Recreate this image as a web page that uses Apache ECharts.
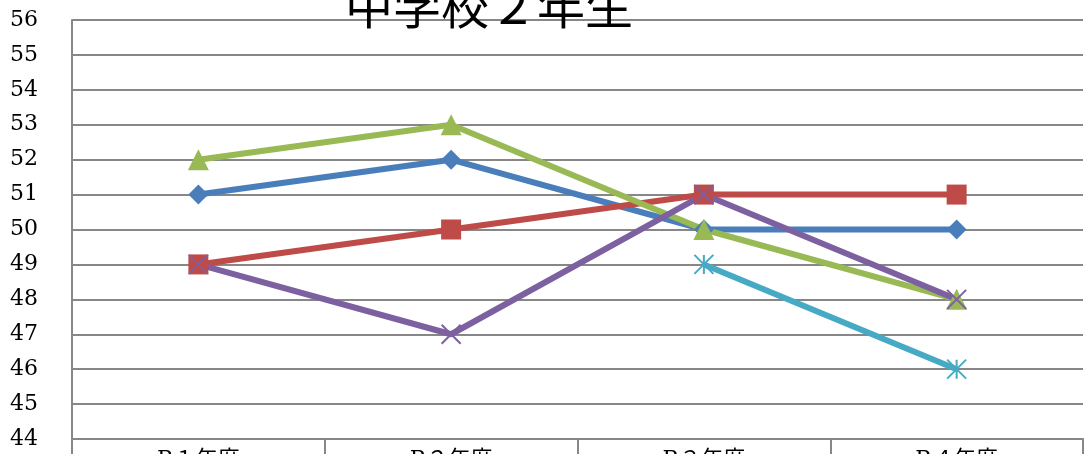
<!DOCTYPE html>
<html>
<head>
<meta charset="utf-8">
<script src="https://cdn.jsdelivr.net/npm/echarts@6/dist/echarts.min.js"></script>
<style>
  html, body { margin: 0; padding: 0; background: #fff; }
  #chart { width: 1085px; height: 454px; }
</style>
</head>
<body>
<div id="chart"></div>
<script>
// 年度ごとの偏差値（中学校２年生）
const chartTitle = '中学校２年生';
const categories = ['R１年度', 'R２年度', 'R３年度', 'R４年度'];
const seriesBlue = [51, 52, 50, 50];
const seriesRed = [49, 50, 51, 51];
const seriesGreen = [52, 53, 50, 48];
const seriesPurple = [49, 47, 51, 48];
const seriesCyan = [null, null, 49, 46];
const yMin = 44, yMax = 56, yStep = 1;

const gridColor = '#878787';
const serifFont = '"DejaVu Serif", "Noto Sans CJK JP", serif';

function lineSeries(name, data, color, symbol, size, stroked) {
  return {
    name: name,
    type: 'line',
    data: data,
    symbol: symbol,
    symbolSize: size,
    connectNulls: false,
    lineStyle: { color: color, width: 6 },
    itemStyle: stroked
      ? { color: 'rgba(0,0,0,0)', borderColor: color, borderWidth: 2 }
      : { color: color },
    emphasis: { disabled: true },
    animation: false
  };
}

const chart = echarts.init(document.getElementById('chart'), null, { renderer: 'canvas' });
chart.setOption({
  animation: false,
  title: {
    text: chartTitle,
    left: 484,
    textAlign: 'center',
    top: -23,
    textStyle: { fontFamily: '"Noto Sans CJK JP", sans-serif', fontSize: 48, fontWeight: 'normal', color: '#000' }
  },
  grid: { left: 72, right: 2, top: 20, bottom: 15, containLabel: false, outerBoundsMode: 'none' },
  xAxis: {
    type: 'category',
    data: categories,
    boundaryGap: true,
    axisLine: { show: true, lineStyle: { color: gridColor, width: 2 } },
    axisTick: { show: true, length: 20, interval: 0, lineStyle: { color: gridColor, width: 2 } },
    axisLabel: { margin: 10, fontFamily: serifFont, fontSize: 22, color: '#000', interval: 0 },
    splitLine: { show: false }
  },
  yAxis: {
    type: 'value',
    min: yMin,
    max: yMax,
    interval: yStep,
    axisLine: { show: true, lineStyle: { color: gridColor, width: 2 } },
    axisTick: { show: false },
    axisLabel: { margin: 34, fontFamily: serifFont, fontSize: 22, color: '#000' },
    splitLine: { show: true, lineStyle: { color: gridColor, width: 2 } }
  },
  series: [
    lineSeries('青', seriesBlue, '#4a7ebb', 'diamond', 20, false),
    lineSeries('赤', seriesRed, '#be4b48', 'rect', 20, false),
    lineSeries('緑', seriesGreen, '#98b954', 'triangle', 21, false),
    lineSeries('紫', seriesPurple, '#7d60a0', 'path://M0,0L10,10M10,0L0,10', 19, true),
    lineSeries('水色', seriesCyan, '#46aac5', 'path://M0,0L10,10M10,0L0,10M5,0L5,10', 19, true)
  ]
});
</script>
</body>
</html>
